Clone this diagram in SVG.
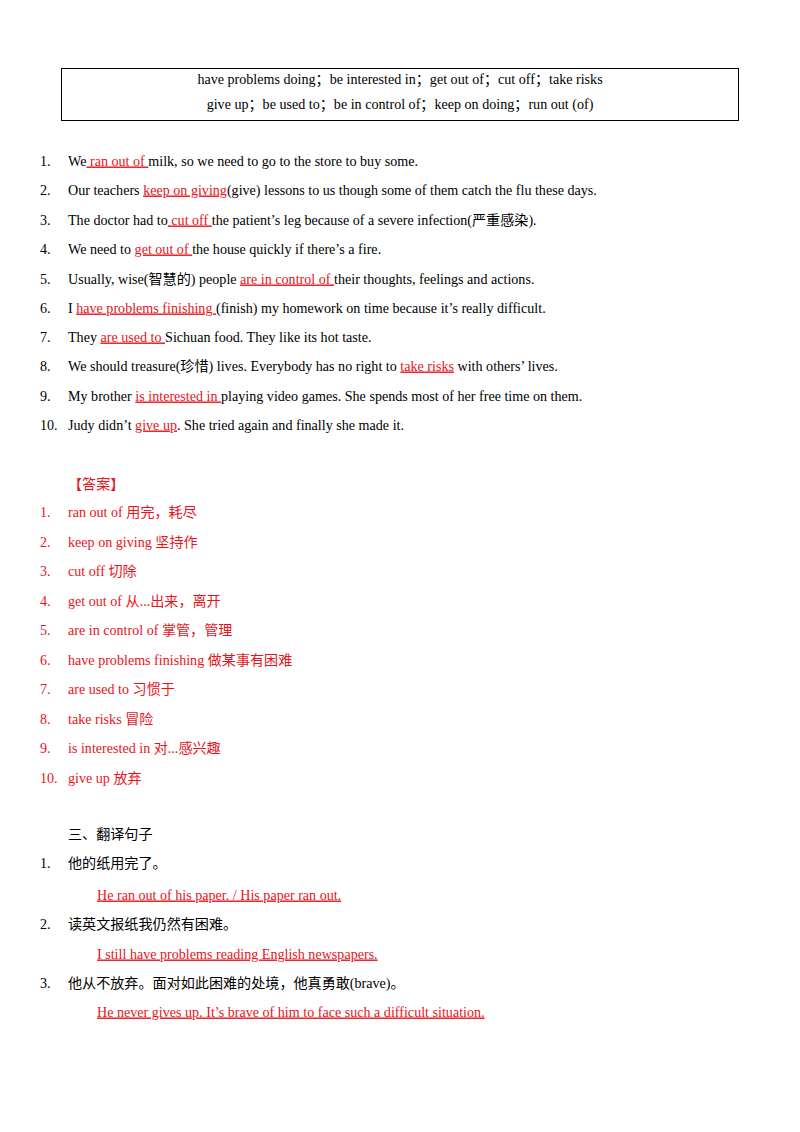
<svg xmlns="http://www.w3.org/2000/svg" width="800" height="1132" viewBox="0 0 800 1132" xml:space="preserve">
<style>
text{font-family:"Liberation Serif","Noto Sans CJK SC",serif;font-size:14.1px;fill:#000}
.r{fill:#e8141b}
.u{fill:#e8141b;text-decoration:underline}
.c{text-anchor:middle}
</style>
<rect width="800" height="1132" fill="#fff"/>
<rect x="61.5" y="68.5" width="677" height="52" fill="none" stroke="#000" stroke-width="1"/>
<text class="c" x="400" y="83.5">have problems doing；be interested in；get out of；cut off；take risks</text>
<text class="c" x="400" y="108.5">give up；be used to；be in control of；keep on doing；run out (of)</text>
<g>
<text x="40" y="165.5">1.</text><text x="68" y="165.5">We<tspan class="u"> ran out of </tspan>milk, so we need to go to the store to buy some.</text>
<text x="40" y="194.5">2.</text><text x="68" y="194.5">Our teachers <tspan class="u">keep on giving</tspan>(give) lessons to us though some of them catch the flu these days.</text>
<text x="40" y="224.5">3.</text><text x="68" y="224.5">The doctor had to<tspan class="u"> cut off </tspan>the patient’s leg because of a severe infection(严重感染).</text>
<text x="40" y="253.5">4.</text><text x="68" y="253.5">We need to  <tspan class="u">get out of </tspan>the house quickly if there’s a fire.</text>
<text x="40" y="283.5">5.</text><text x="68" y="283.5">Usually, wise(智慧的) people  <tspan class="u">are in control of </tspan>their thoughts, feelings and actions.</text>
<text x="40" y="312.5">6.</text><text x="68" y="312.5">I  <tspan class="u">have problems finishing </tspan> (finish) my homework on time because it’s really difficult.</text>
<text x="40" y="341.5">7.</text><text x="68" y="341.5">They  <tspan class="u">are used to </tspan>Sichuan food. They like its hot taste.</text>
<text x="40" y="370.5">8.</text><text x="68" y="370.5">We should treasure(珍惜) lives. Everybody has no right to <tspan class="u">take risks</tspan> with others’ lives.</text>
<text x="40" y="400.5">9.</text><text x="68" y="400.5">My brother  <tspan class="u">is interested in </tspan>playing video games. She spends most of her free time on them.</text>
<text x="40" y="429.5">10.</text><text x="68" y="429.5">Judy didn’t  <tspan class="u">give up</tspan>. She tried again and finally she made it.</text>
</g>
<g class="r">
<text class="r" x="68" y="488.5">【答案】</text>
<text class="r" x="40" y="516.5">1.</text><text class="r" x="68" y="516.5">ran out of  用完，耗尽</text>
<text class="r" x="40" y="546.5">2.</text><text class="r" x="68" y="546.5">keep on giving  坚持作</text>
<text class="r" x="40" y="575.5">3.</text><text class="r" x="68" y="575.5">cut off  切除</text>
<text class="r" x="40" y="605.5">4.</text><text class="r" x="68" y="605.5">get out of  从...出来，离开</text>
<text class="r" x="40" y="634.5">5.</text><text class="r" x="68" y="634.5">are in control of  掌管，管理</text>
<text class="r" x="40" y="664.5">6.</text><text class="r" x="68" y="664.5">have problems finishing    做某事有困难</text>
<text class="r" x="40" y="693.5">7.</text><text class="r" x="68" y="693.5">are used to  习惯于</text>
<text class="r" x="40" y="723.5">8.</text><text class="r" x="68" y="723.5">take risks  冒险</text>
<text class="r" x="40" y="752.5">9.</text><text class="r" x="68" y="752.5">is interested in  对...感兴趣</text>
<text class="r" x="40" y="782.5">10.</text><text class="r" x="68" y="782.5">give up  放弃</text>
</g>
<g>
<text x="68" y="838.5">三、翻译句子</text>
<text x="40" y="867.5">1.</text><text x="68" y="867.5">他的纸用完了。</text>
<text class="u" x="97" y="899.5">He ran out of his paper. / His paper ran out.</text>
<text x="40" y="928.5">2.</text><text x="68" y="928.5">读英文报纸我仍然有困难。</text>
<text class="u" x="97" y="958.5">I still have problems reading English newspapers.</text>
<text x="40" y="987.5">3.</text><text x="68" y="987.5">他从不放弃。面对如此困难的处境，他真勇敢(brave)。</text>
<text class="u" x="97" y="1016.5">He never gives up. It’s  brave  of him to face such a difficult situation.</text>
</g>
</svg>
